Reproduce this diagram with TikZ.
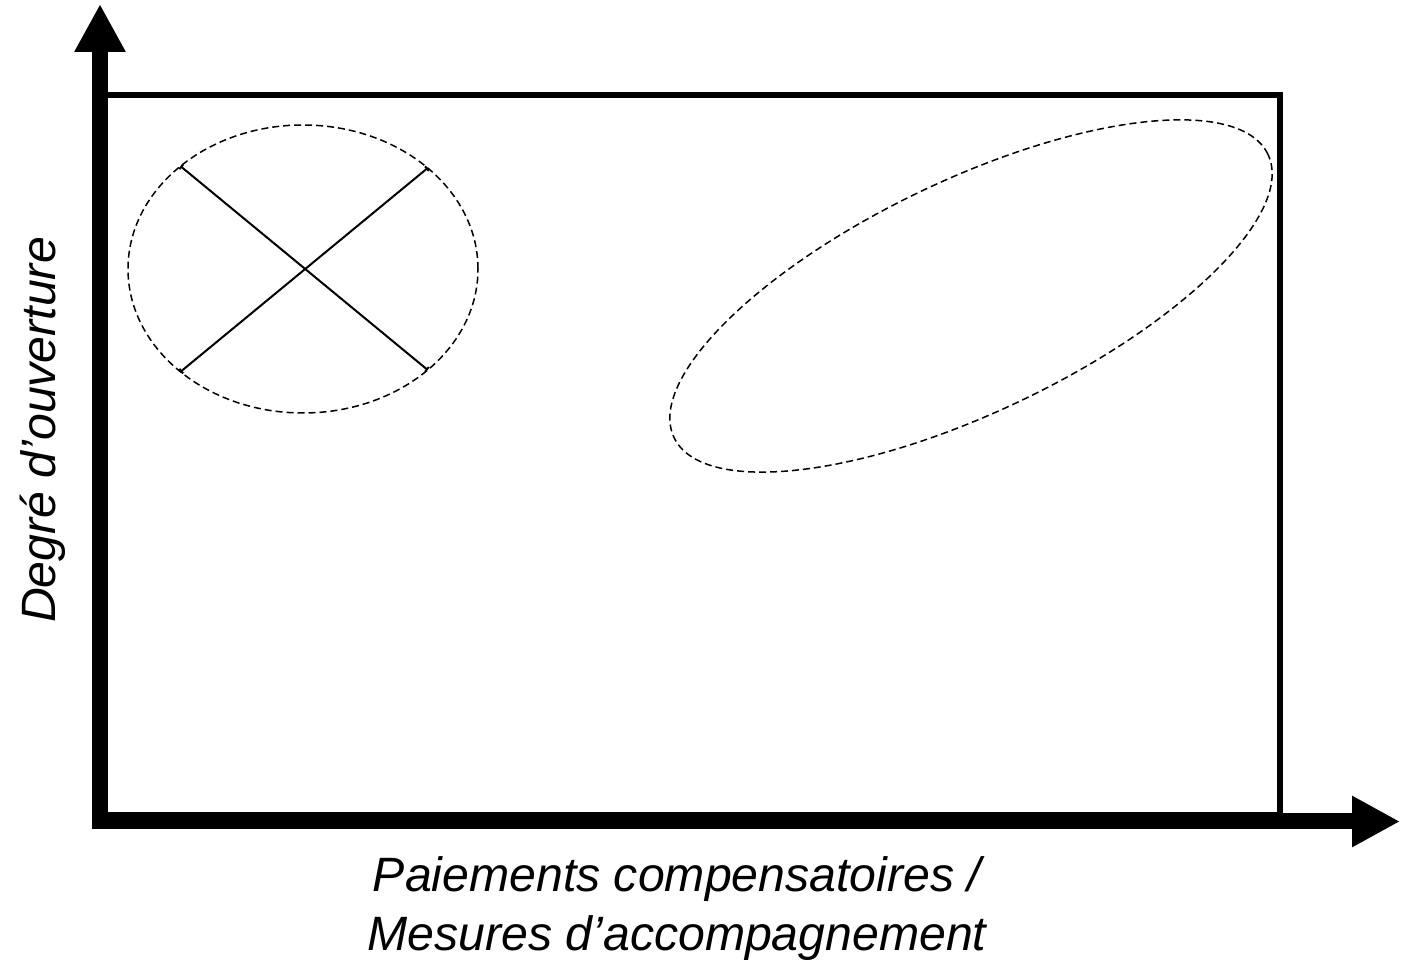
\documentclass[tikz,border=0pt]{standalone}
\usepackage{fontspec}
\setmainfont{Liberation Sans}
\usetikzlibrary{arrows.meta,shapes.geometric}

\begin{document}
\begin{tikzpicture}[
  x=0.5pt, y=0.5pt,
  font=\fontsize{24.1}{29.5}\selectfont\itshape,
  axis/.style={line width=8pt, -{Triangle[length=24pt, width=24pt]}},
  frame/.style={draw, line width=2.8pt},
  zone/.style={draw, ellipse, dash pattern=on 3.5pt off 2pt, line width=0.75pt,
               inner sep=0pt, outer sep=0pt},
  cross/.style={line width=1pt, {Bar[width=3pt]}-{Bar[width=3pt]}},
  axislabel/.style={align=center, inner sep=0pt}
]
\useasboundingbox (0,0) rectangle (1402,962);

% Frame
\draw[frame] (105,147) rectangle (1280,867);

% Zones
\node[zone, minimum width=175pt, minimum height=144pt] (closed) at (303,693) {};
\node[zone, minimum width=329pt, minimum height=116pt, rotate=25.5] (open) at (971,666) {};

\draw[cross] (closed.140.6) -- (closed.-39.4);
\draw[cross] (closed.39.4) -- (closed.-140.6);

% Axes
\coordinate (ystart) at (100,133);
\coordinate (ytip) at (100,958);
\coordinate (xstart) at (92,140.5);
\coordinate (xtip) at (1400,140.5);
\draw[axis] (ystart) -- (ytip);
\draw[axis] (xstart) -- (xtip);

% Labels
\node[axislabel] (xlabel) at (677,53) {Paiements compensatoires /\\ Mesures d’accompagnement};
\node[axislabel, rotate=90, anchor=base] (ylabel) at (55,532) {Degré d’ouverture};

\end{tikzpicture}
\end{document}
